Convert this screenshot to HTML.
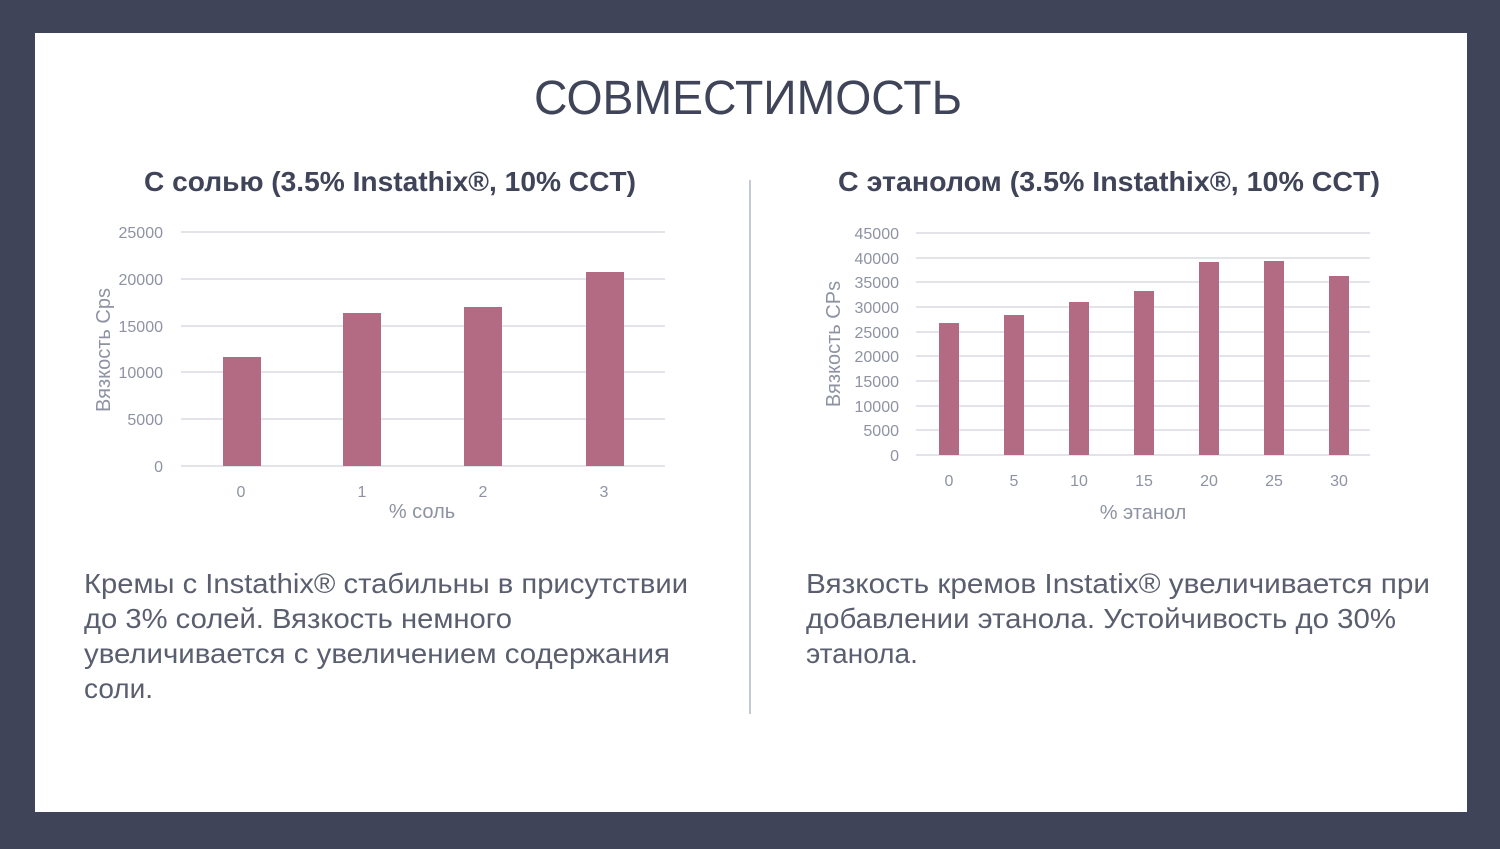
<!DOCTYPE html>
<html><head><meta charset="utf-8"><style>
html,body{margin:0;padding:0;background:#3f4459;}
body{width:1500px;height:844px;overflow:hidden;font-family:"Liberation Sans","DejaVu Sans",sans-serif;}
</style></head><body>
<svg width="1500" height="844" xmlns="http://www.w3.org/2000/svg" font-family="Liberation Sans, DejaVu Sans, sans-serif">
<rect x="0" y="0" width="1500" height="844" fill="#3f4459"/>
<rect x="35" y="33" width="1432" height="779" fill="#ffffff"/>
<text x="748" y="114" text-anchor="middle" font-size="48" fill="#3f4459" textLength="428" lengthAdjust="spacingAndGlyphs">СОВМЕСТИМОСТЬ</text>
<text x="390" y="191" text-anchor="middle" font-size="28" font-weight="bold" fill="#3f4459" textLength="492" lengthAdjust="spacingAndGlyphs">С солью (3.5% Instathix®, 10% CCT)</text>
<text x="1109" y="191" text-anchor="middle" font-size="28" font-weight="bold" fill="#3f4459" textLength="542" lengthAdjust="spacingAndGlyphs">С этанолом (3.5% Instathix®, 10% CCT)</text>
<line x1="750" y1="180" x2="750" y2="714" stroke="#c5c9d3" stroke-width="2"/>
<g stroke="#e2e4ea" stroke-width="2">
<line x1="181" y1="232" x2="665" y2="232"/><line x1="181" y1="279" x2="665" y2="279"/><line x1="181" y1="326" x2="665" y2="326"/><line x1="181" y1="372" x2="665" y2="372"/><line x1="181" y1="419" x2="665" y2="419"/><line x1="181" y1="466" x2="665" y2="466"/>
</g>
<g fill="#8e93a3" font-size="16" text-anchor="end">
<text x="163" y="238">25000</text><text x="163" y="285">20000</text><text x="163" y="332">15000</text><text x="163" y="378">10000</text><text x="163" y="425">5000</text><text x="163" y="472">0</text>
</g>
<g fill="#b36b83">
<rect x="223" y="357" width="38" height="109"/><rect x="343" y="313" width="38" height="153"/><rect x="464" y="307" width="38" height="159"/><rect x="586" y="272" width="38" height="194"/>
</g>
<g fill="#8e93a3" font-size="16" text-anchor="middle">
<text x="241" y="497">0</text><text x="362" y="497">1</text><text x="483" y="497">2</text><text x="604" y="497">3</text>
</g>
<text x="422" y="518" text-anchor="middle" font-size="20" fill="#8e93a3">% соль</text>
<text transform="translate(110,350) rotate(-90)" text-anchor="middle" font-size="20" fill="#8e93a3">Вязкость Cps</text>
<g stroke="#e2e4ea" stroke-width="2">
<line x1="916" y1="233" x2="1370" y2="233"/><line x1="916" y1="258" x2="1370" y2="258"/><line x1="916" y1="282" x2="1370" y2="282"/><line x1="916" y1="307" x2="1370" y2="307"/><line x1="916" y1="332" x2="1370" y2="332"/><line x1="916" y1="356" x2="1370" y2="356"/><line x1="916" y1="381" x2="1370" y2="381"/><line x1="916" y1="406" x2="1370" y2="406"/><line x1="916" y1="430" x2="1370" y2="430"/><line x1="916" y1="455" x2="1370" y2="455"/>
</g>
<g fill="#8e93a3" font-size="16" text-anchor="end">
<text x="899" y="239">45000</text><text x="899" y="264">40000</text><text x="899" y="288">35000</text><text x="899" y="313">30000</text><text x="899" y="338">25000</text><text x="899" y="362">20000</text><text x="899" y="387">15000</text><text x="899" y="412">10000</text><text x="899" y="436">5000</text><text x="899" y="461">0</text>
</g>
<g fill="#b36b83">
<rect x="939" y="323" width="20" height="132"/><rect x="1004" y="315" width="20" height="140"/><rect x="1069" y="302" width="20" height="153"/><rect x="1134" y="291" width="20" height="164"/><rect x="1199" y="262" width="20" height="193"/><rect x="1264" y="261" width="20" height="194"/><rect x="1329" y="276" width="20" height="179"/>
</g>
<g fill="#8e93a3" font-size="16" text-anchor="middle">
<text x="949" y="486">0</text><text x="1014" y="486">5</text><text x="1079" y="486">10</text><text x="1144" y="486">15</text><text x="1209" y="486">20</text><text x="1274" y="486">25</text><text x="1339" y="486">30</text>
</g>
<text x="1143" y="519" text-anchor="middle" font-size="20" fill="#8e93a3">% этанол</text>
<text transform="translate(840,344) rotate(-90)" text-anchor="middle" font-size="20" fill="#8e93a3">Вязкость CPs</text>
<g fill="#5a5f70" font-size="28">
<text x="84" y="593" textLength="604" lengthAdjust="spacingAndGlyphs">Кремы с Instathix® стабильны в присутствии</text>
<text x="84" y="628" textLength="428" lengthAdjust="spacingAndGlyphs">до 3% солей. Вязкость немного</text>
<text x="84" y="663" textLength="586" lengthAdjust="spacingAndGlyphs">увеличивается с увеличением содержания</text>
<text x="84" y="698">соли.</text>
<text x="806" y="593" textLength="624" lengthAdjust="spacingAndGlyphs">Вязкость кремов Instatix® увеличивается при</text>
<text x="806" y="628" textLength="590" lengthAdjust="spacingAndGlyphs">добавлении этанола. Устойчивость до 30%</text>
<text x="806" y="663">этанола.</text>
</g>
</svg>
</body></html>
